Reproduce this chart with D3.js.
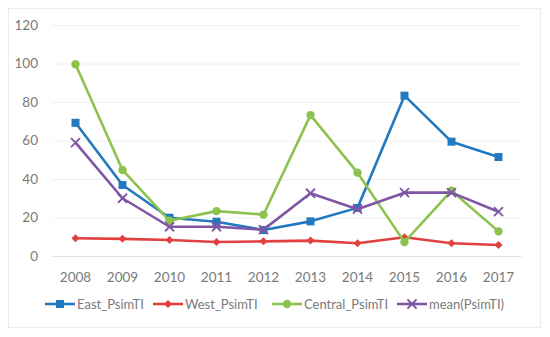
<!DOCTYPE html>
<html><head><meta charset="utf-8">
<script src="https://cdn.jsdelivr.net/npm/d3@7"></script>
<style>body{margin:0;background:#fff}svg{display:block}text{font-family:Lato,"Open Sans",sans-serif}</style>
</head><body><svg id="c" width="550" height="337"></svg>
<script>
const years = ["2008","2009","2010","2011","2012","2013","2014","2015","2016","2017"];
const yTicks = [0,20,40,60,80,100,120];
const seriesNames = ["East_PsimTI","West_PsimTI","Central_PsimTI","mean(PsimTI)"];
const eastValues = [69.2,36.9,19.9,17.8,13.5,18.0,25.0,83.3,59.4,51.4];
const westValues = [9.2,8.9,8.3,7.3,7.6,8.0,6.6,9.7,6.6,5.7];
const centralValues = [99.6,44.7,18.3,23.3,21.5,73.2,43.3,7.2,33.9,12.8];
const meanValues = [58.9,30.0,15.2,15.2,13.7,32.6,24.3,32.9,32.9,23.0];
const colors = ["#2279c0","#e0413f","#8cc34f","#7f56a4"];
const markers = ["square","diamond","circle","x"];

const svg = d3.select("#c");
svg.append("rect").attr("x",8.5).attr("y",8.5).attr("width",532).attr("height",319)
  .attr("fill","#fff").attr("stroke","#ececec");

const x = d3.scaleBand().domain(years).range([52,522]);
const y = d3.scaleLinear().domain([0,120]).range([256,25]);

svg.append("g").selectAll("line").data(yTicks).join("line")
  .attr("x1",52).attr("x2",522).attr("y1",d=>y(d)+0.5).attr("y2",d=>y(d)+0.5)
  .attr("stroke",d=>d===0?"#e4e4e4":"#f0f0f0").attr("stroke-width",1);

const yAxis = svg.append("g").attr("transform","translate(38,0)")
  .call(d3.axisLeft(y).tickValues(yTicks).tickSize(0).tickPadding(0));
yAxis.select(".domain").remove();
yAxis.selectAll("text").attr("fill","#7a7a7a").style("font-size","13.5px").attr("text-anchor","end");

const xAxis = svg.append("g").attr("transform","translate(0,256)")
  .call(d3.axisBottom(x).tickSize(0).tickPadding(16));
xAxis.select(".domain").remove();
xAxis.selectAll("text").attr("fill","#7a7a7a").style("font-size","13.5px");

const all = [eastValues,westValues,centralValues,meanValues];
const line = d3.line().x((d,i)=>x(years[i])+x.bandwidth()/2).y(d=>y(d));

function drawMarker(g, type, cx, cy, color){
  if(type==="square") g.append("rect").attr("x",cx-4).attr("y",cy-4).attr("width",8).attr("height",8).attr("fill",color);
  else if(type==="diamond") g.append("path").attr("d",`M${cx},${cy-4}L${cx+4},${cy}L${cx},${cy+4}L${cx-4},${cy}Z`).attr("fill",color);
  else if(type==="circle") g.append("circle").attr("cx",cx).attr("cy",cy).attr("r",4.2).attr("fill",color);
  else g.append("path").attr("d",`M${cx-4.5},${cy-4.5}L${cx+4.5},${cy+4.5}M${cx+4.5},${cy-4.5}L${cx-4.5},${cy+4.5}`).attr("stroke",color).attr("stroke-width",1.8);
}

all.forEach((vals,si)=>{
  const g = svg.append("g");
  g.append("path").datum(vals).attr("d",line).attr("fill","none")
    .attr("stroke",colors[si]).attr("stroke-width",2.6).attr("stroke-linejoin","round");
  vals.forEach((v,i)=>drawMarker(g,markers[si],x(years[i])+x.bandwidth()/2,y(v),colors[si]));
});

const legendX = [45,153,272,397];
const lg = svg.append("g");
seriesNames.forEach((n,i)=>{
  const lx = legendX[i], ly = 304;
  lg.append("line").attr("x1",lx).attr("x2",lx+30).attr("y1",ly).attr("y2",ly)
    .attr("stroke",colors[i]).attr("stroke-width",2.6);
  drawMarker(lg,markers[i],lx+15,ly,colors[i]);
  lg.append("text").attr("x",lx+32).attr("y",ly).attr("dy","0.35em")
    .attr("fill","#7a7a7a").style("font-size","13px").text(n);
});
</script></body></html>
